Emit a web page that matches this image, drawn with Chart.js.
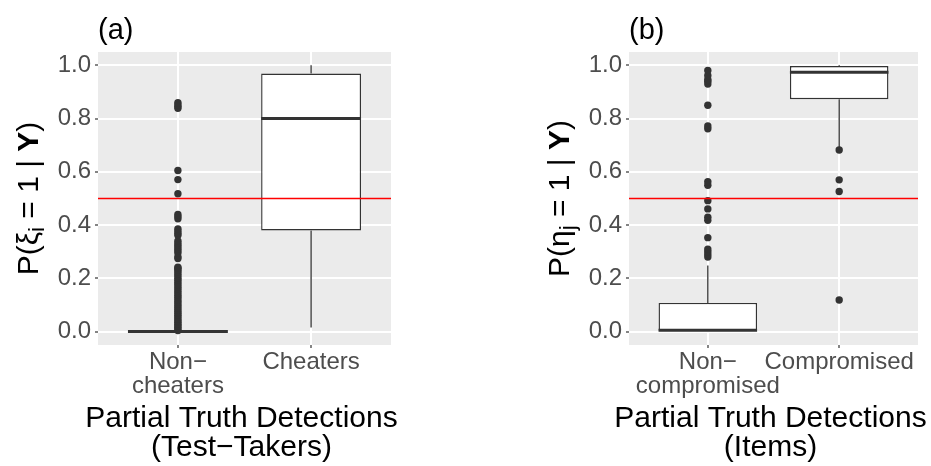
<!DOCTYPE html>
<html>
<head>
<meta charset="utf-8">
<script src="https://cdn.jsdelivr.net/npm/chart.js@4.4.1/dist/chart.umd.min.js"></script>
<style>
  body { margin: 0; background: #fff; }
  #wrap { position: relative; width: 931px; height: 466px; }
  canvas { position: absolute; top: 0; }
  #takers { left: 0; }
  #items { left: 465px; }
</style>
</head>
<body>
<div id="wrap">
  <canvas id="takers" width="465" height="466"></canvas>
  <canvas id="items" width="466" height="466"></canvas>
</div>
<script>
// (a) posterior detection probability per test-taker
const takerGroups = [['Non\u2212', 'cheaters'], 'Cheaters'];
const takerLower = [0, 0.016];
const takerQ1 = [0, 0.38];
const takerMedian = [0.001, 0.80];
const takerQ3 = [0.003, 0.969];
const takerUpper = [0.006, 1.0];
const takerOutliers = [
  [0.004, 0.010, 0.016, 0.022, 0.028, 0.035, 0.041, 0.048, 0.055, 0.062, 0.069, 0.076,
   0.083, 0.091, 0.098, 0.106, 0.113, 0.121, 0.129, 0.137, 0.145, 0.153, 0.161, 0.169,
   0.177, 0.185, 0.193, 0.201, 0.209, 0.217, 0.225, 0.232, 0.238, 0.242,
   0.275, 0.281, 0.295, 0.303, 0.310, 0.318, 0.325, 0.333, 0.341,
   0.362, 0.370, 0.378, 0.386, 0.424, 0.432, 0.440,
   0.518, 0.571, 0.605, 0.839, 0.845, 0.852, 0.860],
  []
];

// (b) posterior detection probability per item
const itemGroups = [['Non\u2212', 'compromised'], 'Compromised'];
const itemLower = [0, 0.69];
const itemQ1 = [0, 0.873];
const itemMedian = [0.005, 0.974];
const itemQ3 = [0.108, 0.997];
const itemUpper = [0.248, 1.0];
const itemOutliers = [
  [0.280, 0.290, 0.300, 0.310, 0.353, 0.418, 0.430, 0.461, 0.492, 0.550, 0.563,
   0.762, 0.772, 0.850, 0.930, 0.940, 0.947, 0.962, 0.981],
  [0.119, 0.526, 0.570, 0.682]
];

const yMajorTicks = [0, 0.2, 0.4, 0.6, 0.8, 1.0];
const yMinorTicks = [0.1, 0.3, 0.5, 0.7, 0.9];
const cutoff = 0.5;

const FONT = "'Liberation Sans', Arial, sans-serif";
const INK = '#333333';
const BOX_WIDTH = 0.75;
const X_MIN = 0.4, X_MAX = 2.6;
const Y_MIN = -0.05, Y_MAX = 1.05;
const TITLE_SIZE = 30;
const TICK_SIZE = 24;

const isMajor = v => yMajorTicks.some(t => Math.abs(t - v) < 1e-9);

const plotBackground = {
  id: 'plotBackground',
  beforeDraw(chart) {
    const { ctx, chartArea: a } = chart;
    ctx.save();
    ctx.fillStyle = '#EBEBEB';
    ctx.fillRect(a.left, a.top, a.right - a.left, a.bottom - a.top);
    ctx.restore();
  }
};

// panel letter above the plot and the two-line x title below it
const panelText = {
  id: 'panelText',
  afterDraw(chart, args, opts) {
    const { ctx, chartArea } = chart;
    ctx.save();
    ctx.fillStyle = '#000';
    ctx.textBaseline = 'alphabetic';
    ctx.font = `${TITLE_SIZE - 1}px ${FONT}`;
    ctx.textAlign = 'left';
    ctx.fillText(opts.tag, chartArea.left, 39);
    ctx.font = `${TITLE_SIZE}px ${FONT}`;
    ctx.textAlign = 'center';
    const cx = (chartArea.left + chartArea.right) / 2 - 3;
    opts.xTitle.forEach((line, i) => ctx.fillText(line, cx, 427 + i * 29));
    ctx.restore();
  }
};

// rotated y title with subscript and bold parts
const yTitle = {
  id: 'yTitle',
  afterDraw(chart, args, opts) {
    const { ctx, chartArea } = chart;
    const fontFor = p => `${p.bold ? 'bold ' : ''}${p.sub ? Math.round(TITLE_SIZE * 0.72) : TITLE_SIZE}px ${FONT}`;
    ctx.save();
    let total = 0;
    opts.parts.forEach(p => { ctx.font = fontFor(p); total += ctx.measureText(p.text).width; });
    ctx.translate(chartArea.left - 60, (chartArea.top + chartArea.bottom) / 2);
    ctx.rotate(-Math.PI / 2);
    ctx.fillStyle = '#000';
    ctx.textBaseline = 'alphabetic';
    ctx.textAlign = 'left';
    let x = -total / 2;
    opts.parts.forEach(p => {
      ctx.font = fontFor(p);
      ctx.fillText(p.text, x, p.sub ? 6 : 0);
      x += ctx.measureText(p.text).width;
    });
    ctx.restore();
  }
};

Chart.register(plotBackground, panelText, yTitle);

function boxPanel(canvasId, cfg) {
  const xs = cfg.groups.map((g, i) => i + 1);
  const half = BOX_WIDTH / 2;
  const whiskers = [], medians = [], points = [];
  xs.forEach((x, i) => {
    whiskers.push({ x, y: cfg.lower[i] }, { x, y: cfg.q1[i] }, { x, y: null },
                  { x, y: cfg.q3[i] }, { x, y: cfg.upper[i] }, { x, y: null });
    medians.push({ x: x - half, y: cfg.median[i] }, { x: x + half, y: cfg.median[i] }, { x, y: null });
    cfg.outliers[i].forEach(v => points.push({ x, y: v }));
  });

  return new Chart(document.getElementById(canvasId), {
    type: 'bar',
    data: {
      datasets: [
        {
          type: 'line',
          data: [{ x: X_MIN, y: cutoff }, { x: X_MAX, y: cutoff }],
          borderColor: '#FF0000', borderWidth: 1.6, pointRadius: 0, order: 0
        },
        {
          type: 'line', data: medians,
          borderColor: INK, borderWidth: 3, pointRadius: 0, spanGaps: false, order: 1
        },
        {
          type: 'bar',
          data: xs.map((x, i) => ({ x, y: [cfg.q1[i], cfg.q3[i]] })),
          backgroundColor: '#FFFFFF', borderColor: INK, borderWidth: 1.4,
          borderSkipped: false, barPercentage: BOX_WIDTH, categoryPercentage: 1, order: 2
        },
        {
          type: 'line', data: whiskers,
          borderColor: INK, borderWidth: 1.3, pointRadius: 0, spanGaps: false, order: 3
        },
        {
          type: 'scatter', data: points,
          backgroundColor: INK, borderWidth: 0, pointRadius: 3.7, order: 4
        }
      ]
    },
    options: {
      responsive: false,
      animation: false,
      devicePixelRatio: 1,
      events: [],
      layout: { padding: { left: 0, right: cfg.padRight, top: 52, bottom: 0 } },
      plugins: {
        legend: { display: false },
        tooltip: { enabled: false },
        panelText: { tag: cfg.tag, xTitle: cfg.xTitle },
        yTitle: { parts: cfg.yTitle }
      },
      scales: {
        x: {
          type: 'linear', min: X_MIN, max: X_MAX, offset: false,
          afterBuildTicks: axis => { axis.ticks = xs.map(v => ({ value: v })); },
          afterFit: axis => { axis.height = 121; },
          ticks: {
            autoSkip: false, maxRotation: 0, padding: 2, color: '#4D4D4D',
            font: { family: FONT, size: TICK_SIZE, lineHeight: 1.01 },
            callback: v => cfg.groups[Math.round(v) - 1]
          },
          grid: { offset: false, color: '#FFFFFF', lineWidth: 2, tickColor: INK, tickWidth: 1.2, tickLength: 3 },
          border: { display: false }
        },
        y: {
          type: 'linear', min: Y_MIN, max: Y_MAX,
          afterBuildTicks: axis => {
            axis.ticks = yMajorTicks.concat(yMinorTicks).sort((a, b) => a - b).map(v => ({ value: v }));
          },
          afterFit: axis => { axis.width = cfg.plotLeft; },
          ticks: {
            padding: 4, color: '#4D4D4D',
            font: { family: FONT, size: TICK_SIZE },
            callback: v => (isMajor(v) ? v.toFixed(1) : '')
          },
          grid: {
            color: '#FFFFFF',
            lineWidth: ctx => (isMajor(ctx.tick.value) ? 2 : 1.1),
            tickColor: ctx => (isMajor(ctx.tick.value) ? INK : 'rgba(0,0,0,0)'),
            tickWidth: 1.2, tickLength: 3
          },
          border: { display: false }
        }
      }
    }
  });
}

boxPanel('takers', {
  tag: '(a)',
  groups: takerGroups,
  lower: takerLower, q1: takerQ1, median: takerMedian, q3: takerQ3, upper: takerUpper,
  outliers: takerOutliers,
  xTitle: ['Partial Truth Detections', '(Test\u2212Takers)'],
  yTitle: [{ text: 'P(' }, { text: '\u03BE' }, { text: 'i', sub: true }, { text: ' = 1 | ' }, { text: 'Y', bold: true }, { text: ')' }],
  plotLeft: 98,
  padRight: 74
});

boxPanel('items', {
  tag: '(b)',
  groups: itemGroups,
  lower: itemLower, q1: itemQ1, median: itemMedian, q3: itemQ3, upper: itemUpper,
  outliers: itemOutliers,
  xTitle: ['Partial Truth Detections', '(Items)'],
  yTitle: [{ text: 'P(' }, { text: '\u03B7' }, { text: 'j', sub: true }, { text: ' = 1 | ' }, { text: 'Y', bold: true }, { text: ')' }],
  plotLeft: 164,
  padRight: 13
});
</script>
</body>
</html>
